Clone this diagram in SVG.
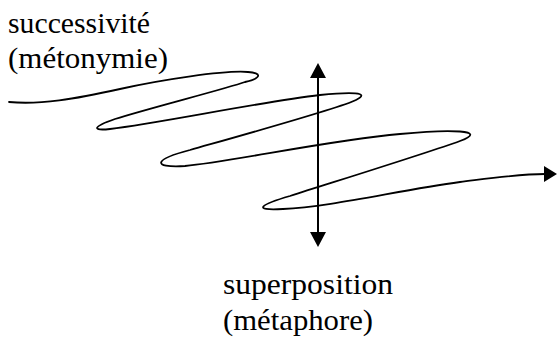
<svg xmlns="http://www.w3.org/2000/svg" width="558" height="338" viewBox="0 0 558 338">
  <style>
    .lbl { font-family: 'Liberation Serif', 'Times New Roman', Times, Tinos, 'Noto Serif', 'DejaVu Serif', FreeSerif, serif; font-size: 30px; fill: #000; }
    .ln { fill: none; stroke: #000; stroke-width: 2; }
    .crv { fill: none; stroke: #000; stroke-width: 1.8; stroke-linecap: round; }
  </style>
  <defs>
    <marker id="ahV" markerUnits="userSpaceOnUse" markerWidth="16" markerHeight="16" viewBox="0 0 15 16" refX="12" refY="8" orient="auto-start-reverse">
      <path d="M0,0 L15,8 L0,16 z" fill="#000"/>
    </marker>
    <marker id="ahH" markerUnits="userSpaceOnUse" markerWidth="14" markerHeight="16" viewBox="0 0 13 16" refX="1" refY="8" orient="auto">
      <path d="M0,0 L13,8 L0,16 z" fill="#000"/>
    </marker>
  </defs>

  <g id="label-successivite">
    <text class="lbl" x="8" y="33" textLength="142" lengthAdjust="spacingAndGlyphs">successivité</text>
    <text class="lbl" x="8" y="68" textLength="160" lengthAdjust="spacingAndGlyphs">(métonymie)</text>
  </g>
  <g id="label-superposition">
    <text class="lbl" x="223" y="294" textLength="170" lengthAdjust="spacingAndGlyphs">superposition</text>
    <text class="lbl" x="223" y="330" textLength="150" lengthAdjust="spacingAndGlyphs">(métaphore)</text>
  </g>

  <g id="connectors">
    <path id="spiral" class="crv" marker-end="url(#ahH)" d="M 9,102
      C 40,105 75,99 120,89
      C 160,80 225,70 248,72
      C 262,73 262,78 245,82
      C 225,89 150,108 115,119
      C 92,127 92,131 110,129
      C 160,123 260,102 320,95
      C 350,92 372,92 356,100
      C 340,108 250,133 190,150
      C 155,159 150,168 185,166
      C 230,162 330,140 400,134
      C 450,129 490,130 460,141
      C 430,152 340,180 290,196
      C 262,204 250,211 283,209
      C 330,207 400,190 460,182
      C 500,177 520,174 545,174"/>
    <line id="vertical-axis" class="ln" x1="318" y1="66" x2="318" y2="244" marker-start="url(#ahV)" marker-end="url(#ahV)"/>
  </g>
</svg>
